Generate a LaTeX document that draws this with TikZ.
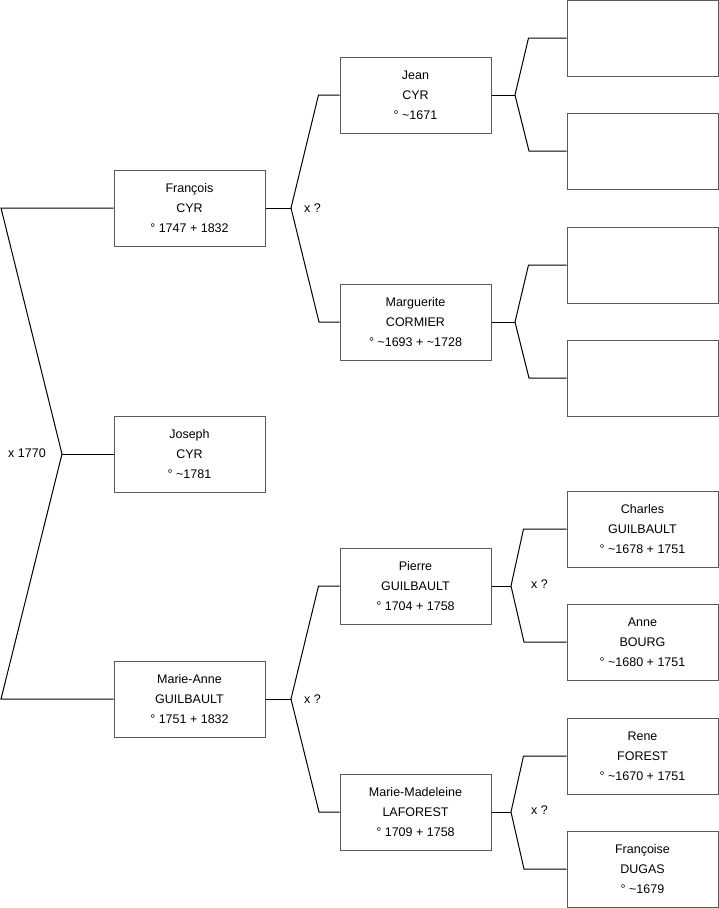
\documentclass[tikz,border=0pt]{standalone}
\usepackage{fontspec}
\setmainfont{Liberation Sans}
\usepackage{tikz}
\definecolor{boxgray}{HTML}{5A5A5A}

\begin{document}
\begin{tikzpicture}[x=1pt,y=-1pt,
		person/.style={draw=boxgray,line width=1pt,fill=white,minimum width=151pt,minimum height=76pt,
			inner sep=0pt,align=center,font=\fontsize{12.5}{20}\selectfont},
		link/.style={line width=1pt},
		union/.style={inner sep=0pt,font=\fontsize{12.5}{15}\selectfont}]
			\useasboundingbox (0,0) rectangle (719,908);
			
			% Children generation
			\node[person] (francois) at (189.5,208) {François\\CYR\\° 1747 + 1832};
			\node[person] (joseph) at (189.5,454) {Joseph\\CYR\\° \textasciitilde1781};
			\node[person] (marieanne) at (189.5,699) {Marie-Anne\\GUILBAULT\\° 1751 + 1832};
			
			% Parents
			\node[person] (jean) at (415.5,95) {Jean\\CYR\\° \textasciitilde1671};
			\node[person] (marguerite) at (415.5,322) {Marguerite\\CORMIER\\° \textasciitilde1693 + \textasciitilde1728};
			\node[person] (pierre) at (415.5,586) {Pierre\\GUILBAULT\\° 1704 + 1758};
			\node[person] (mariemad) at (415.5,812) {Marie-Madeleine\\LAFOREST\\° 1709 + 1758};
			
			% Grandparents
			\node[person] (jeanfa) at (642.5,38) {};
			\node[person] (jeanmo) at (642.5,151) {};
			\node[person] (margfa) at (642.5,265) {};
			\node[person] (margmo) at (642.5,378) {};
			\node[person] (charles) at (642.5,529) {Charles\\GUILBAULT\\° \textasciitilde1678 + 1751};
			\node[person] (anne) at (642.5,642) {Anne\\BOURG\\° \textasciitilde1680 + 1751};
			\node[person] (rene) at (642.5,756) {Rene\\FOREST\\° \textasciitilde1670 + 1751};
			\node[person] (francoise) at (642.5,869) {Françoise\\DUGAS\\° \textasciitilde1679};
			
			% Fork points
			\coordinate (top) at (1,208);
			\coordinate (mid) at (62,454);
			\coordinate (bot) at (1,699);
			\coordinate (fA) at (291,208);
			\coordinate (fB) at (291,699);
			\coordinate (fJ) at (515,95);
			\coordinate (fM) at (515,322);
			\coordinate (fP) at (511,586);
			\coordinate (fL) at (511,812);
			
			% Siblings
			\draw[link] (francois.west) -- (top) -- (mid) -- (bot) -- (marieanne.west);
			\draw[link] (mid) -- (joseph.west);
			\node[union] (m0) at (27,453) {x 1770};
			
			% Couples
			\draw[link] (francois.east) -- (fA);
			\draw[link] (jean.west) -- ++(-21,0) -- (fA) -- (319,322) -- (marguerite.west);
			\node[union] (m1) at (312.5,208) {x ?};
			\draw[link] (marieanne.east) -- (fB);
			\draw[link] (pierre.west) -- ++(-21,0) -- (fB) -- (319,812) -- (mariemad.west);
			\node[union] (m2) at (312.5,699) {x ?};
			
			\draw[link] (jean.east) -- (fJ);
			\draw[link] (jeanfa.west) -- ++(-38,0) -- (fJ) -- (529,151) -- (jeanmo.west);
			\draw[link] (marguerite.east) -- (fM);
			\draw[link] (margfa.west) -- ++(-38,0) -- (fM) -- (529,378) -- (margmo.west);
			\draw[link] (pierre.east) -- (fP);
			\draw[link] (charles.west) -- ++(-43,0) -- (fP) -- (524,642) -- (anne.west);
			\node[union] (m3) at (539.5,584) {x ?};
			\draw[link] (mariemad.east) -- (fL);
			\draw[link] (rene.west) -- ++(-43,0) -- (fL) -- (524,869) -- (francoise.west);
			\node[union] (m4) at (539.5,810) {x ?};
		\end{tikzpicture}
\end{document}
